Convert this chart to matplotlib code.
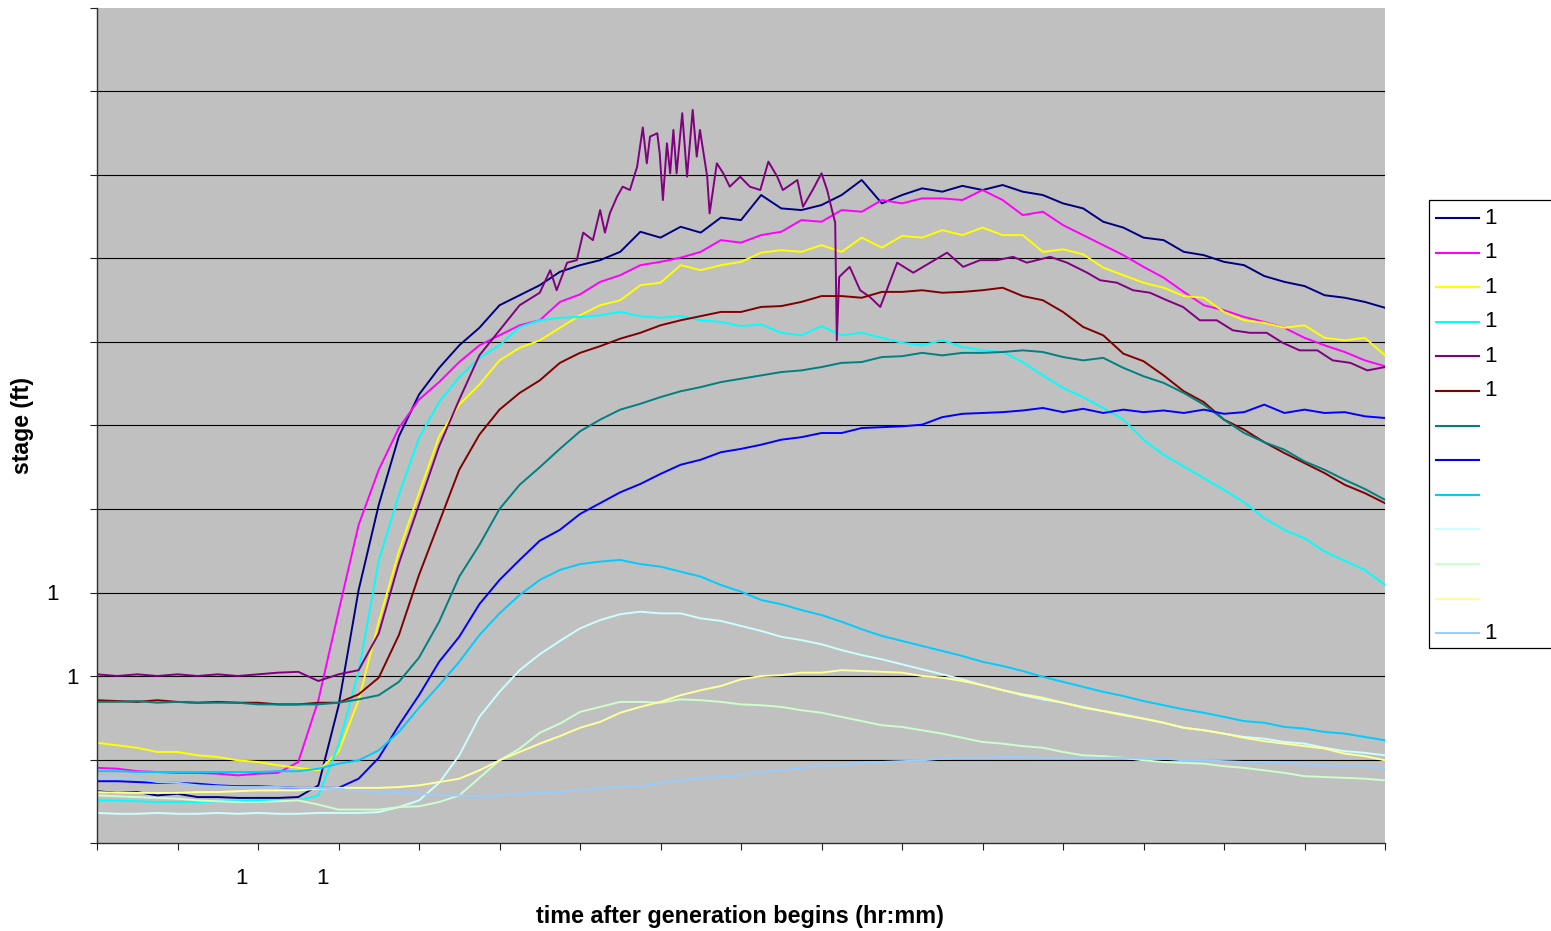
import numpy as np
import matplotlib
matplotlib.use("Agg")
import matplotlib.pyplot as plt
from matplotlib.lines import Line2D
from matplotlib.patches import Rectangle

plt.rcParams['font.family'] = ['Liberation Sans', 'DejaVu Sans']

# ---------------- data (time in axis tick units, stage in gridline units) ----------------
TIME = np.arange(0, 16.001, 0.25)

NAVY = [0.62, 0.60, 0.61, 0.57, 0.59, 0.55, 0.55, 0.54, 0.54, 0.54, 0.55, 0.69,
        1.64, 3.03, 4.05, 4.87, 5.37, 5.69, 5.96, 6.17, 6.44, 6.56, 6.68, 6.84,
        6.92, 6.98, 7.08, 7.32, 7.25, 7.38, 7.31, 7.49, 7.46, 7.76, 7.60, 7.58,
        7.64, 7.76, 7.94, 7.66, 7.76, 7.84, 7.80, 7.87, 7.82, 7.88, 7.80, 7.76,
        7.66, 7.60, 7.44, 7.37, 7.25, 7.22, 7.08, 7.04, 6.96, 6.92, 6.79, 6.72,
        6.67, 6.56, 6.53, 6.48, 6.41]

MAGENTA = [0.90, 0.89, 0.86, 0.85, 0.84, 0.84, 0.83, 0.81, 0.83, 0.84, 0.97, 1.71,
           2.77, 3.81, 4.47, 4.97, 5.31, 5.52, 5.76, 5.96, 6.08, 6.20, 6.26, 6.48,
           6.57, 6.72, 6.80, 6.92, 6.96, 7.01, 7.08, 7.22, 7.19, 7.28, 7.32, 7.46,
           7.44, 7.58, 7.56, 7.70, 7.66, 7.72, 7.72, 7.70, 7.82, 7.70, 7.52, 7.56,
           7.40, 7.28, 7.16, 7.04, 6.90, 6.77, 6.60, 6.44, 6.38, 6.30, 6.24, 6.17,
           6.05, 5.96, 5.88, 5.78, 5.71]

YELLOW = [1.20, 1.17, 1.14, 1.09, 1.09, 1.05, 1.03, 0.99, 0.97, 0.93, 0.90, 0.87,
          1.09, 1.71, 2.65, 3.49, 4.19, 4.87, 5.25, 5.49, 5.78, 5.93, 6.02, 6.17,
          6.32, 6.44, 6.50, 6.68, 6.71, 6.92, 6.86, 6.92, 6.96, 7.07, 7.10, 7.08,
          7.16, 7.08, 7.25, 7.13, 7.27, 7.25, 7.34, 7.28, 7.37, 7.28, 7.28, 7.08,
          7.11, 7.05, 6.89, 6.80, 6.71, 6.65, 6.55, 6.53, 6.36, 6.26, 6.23, 6.17,
          6.20, 6.05, 6.02, 6.05, 5.84]

CYAN = [0.51, 0.51, 0.50, 0.49, 0.49, 0.49, 0.50, 0.50, 0.51, 0.51, 0.51, 0.57,
        1.17, 2.05, 3.38, 4.17, 4.85, 5.28, 5.58, 5.81, 5.96, 6.18, 6.26, 6.29,
        6.30, 6.32, 6.36, 6.31, 6.29, 6.31, 6.26, 6.24, 6.19, 6.21, 6.11, 6.08,
        6.19, 6.08, 6.11, 6.05, 5.99, 5.96, 6.02, 5.94, 5.90, 5.88, 5.76, 5.60,
        5.45, 5.34, 5.21, 5.07, 4.83, 4.65, 4.51, 4.37, 4.23, 4.08, 3.89, 3.75,
        3.65, 3.49, 3.38, 3.27, 3.09]

PURPLE_TIME = [0.0, 0.25, 0.5, 0.75, 1.0, 1.25, 1.5, 1.75, 2.0, 2.25, 2.5, 2.75,
               3.0, 3.25, 3.5, 3.75, 4.0, 4.25, 4.5, 4.75, 5.0, 5.25, 5.5, 5.63,
               5.71, 5.84, 5.96, 6.04, 6.16, 6.25, 6.31, 6.37, 6.46, 6.53, 6.62,
               6.71, 6.78, 6.83, 6.87, 6.96, 6.99, 7.03, 7.08, 7.12, 7.16, 7.20,
               7.27, 7.33, 7.40, 7.45, 7.49, 7.58, 7.61, 7.70, 7.78, 7.86, 7.99,
               8.11, 8.24, 8.34, 8.45, 8.52, 8.70, 8.77, 8.89, 9.00, 9.07, 9.13,
               9.17, 9.19, 9.22, 9.35, 9.48, 9.60, 9.73, 9.81, 9.94, 10.14, 10.35,
               10.56, 10.76, 10.97, 11.18, 11.38, 11.55, 11.84, 12.05, 12.30,
               12.46, 12.67, 12.87, 13.08, 13.29, 13.49, 13.70, 13.91, 14.11,
               14.32, 14.53, 14.73, 14.94, 15.16, 15.35, 15.57, 15.78, 16.0]
PURPLE = [2.02, 2.00, 2.02, 2.00, 2.02, 2.00, 2.02, 2.00, 2.02, 2.04, 2.05, 1.94,
          2.02, 2.07, 2.51, 3.35, 4.05, 4.75, 5.31, 5.84, 6.14, 6.44, 6.59, 6.86,
          6.62, 6.95, 6.98, 7.31, 7.22, 7.58, 7.31, 7.54, 7.74, 7.86, 7.82,
          8.10, 8.57, 8.14, 8.46, 8.50, 8.26, 7.70, 8.38, 8.02, 8.54, 8.02,
          8.74, 7.98, 8.78, 8.22, 8.54, 7.98, 7.54, 8.14, 8.02, 7.86, 7.98,
          7.86, 7.82, 8.16, 7.98, 7.82, 7.94, 7.62, 7.82, 8.02, 7.82, 7.58,
          7.43, 6.02, 6.78, 6.90, 6.62, 6.54, 6.42, 6.62, 6.95, 6.83, 6.95,
          7.07, 6.90, 6.98, 6.98, 7.02, 6.95, 7.02, 6.95, 6.83,
          6.74, 6.71, 6.62, 6.59, 6.50, 6.42, 6.26, 6.26, 6.14,
          6.11, 6.11, 5.99, 5.90, 5.90, 5.78, 5.75, 5.66, 5.70]

DARKRED = [1.71, 1.70, 1.69, 1.71, 1.69, 1.68, 1.69, 1.68, 1.68, 1.66, 1.66, 1.68,
           1.68, 1.78, 1.98, 2.49, 3.21, 3.84, 4.47, 4.89, 5.19, 5.39, 5.54, 5.75,
           5.87, 5.95, 6.04, 6.11, 6.20, 6.26, 6.31, 6.36, 6.36, 6.42, 6.43, 6.48,
           6.55, 6.55, 6.53, 6.60, 6.60, 6.62, 6.59, 6.60, 6.62, 6.65, 6.55, 6.50,
           6.36, 6.18, 6.08, 5.86, 5.77, 5.60, 5.41, 5.28, 5.07, 4.95, 4.80, 4.67,
           4.55, 4.43, 4.29, 4.19, 4.07]

TEAL = [1.69, 1.69, 1.70, 1.68, 1.69, 1.68, 1.68, 1.68, 1.66, 1.66, 1.66, 1.66,
        1.68, 1.72, 1.77, 1.93, 2.22, 2.65, 3.19, 3.57, 4.00, 4.29, 4.50, 4.72,
        4.93, 5.07, 5.19, 5.26, 5.34, 5.41, 5.46, 5.52, 5.56, 5.60, 5.64, 5.66,
        5.70, 5.75, 5.76, 5.82, 5.83, 5.87, 5.84, 5.87, 5.87, 5.88, 5.90, 5.88,
        5.82, 5.78, 5.81, 5.69, 5.59, 5.51, 5.39, 5.25, 5.07, 4.91, 4.80, 4.71,
        4.57, 4.47, 4.35, 4.24, 4.11]

BLUE = [0.74, 0.74, 0.73, 0.72, 0.72, 0.71, 0.69, 0.68, 0.68, 0.67, 0.66, 0.66,
        0.66, 0.77, 1.02, 1.41, 1.77, 2.17, 2.47, 2.86, 3.15, 3.39, 3.62, 3.75,
        3.94, 4.07, 4.20, 4.30, 4.42, 4.53, 4.59, 4.68, 4.72, 4.77, 4.83, 4.86,
        4.91, 4.91, 4.97, 4.98, 4.99, 5.01, 5.10, 5.14, 5.15, 5.16, 5.18, 5.21,
        5.16, 5.20, 5.15, 5.19, 5.16, 5.18, 5.15, 5.19, 5.14, 5.16, 5.25, 5.15,
        5.19, 5.15, 5.16, 5.11, 5.09]

SKYBLUE = [0.86, 0.86, 0.85, 0.85, 0.85, 0.85, 0.85, 0.85, 0.85, 0.86, 0.86, 0.89,
           0.95, 0.99, 1.11, 1.33, 1.62, 1.89, 2.17, 2.49, 2.75, 2.97, 3.15, 3.27,
           3.34, 3.37, 3.39, 3.34, 3.31, 3.25, 3.19, 3.09, 3.01, 2.91, 2.86, 2.79,
           2.73, 2.65, 2.56, 2.48, 2.42, 2.36, 2.30, 2.24, 2.17, 2.12, 2.06, 1.99,
           1.93, 1.87, 1.81, 1.76, 1.70, 1.65, 1.60, 1.56, 1.51, 1.46, 1.44, 1.39,
           1.37, 1.33, 1.31, 1.27, 1.23]

LIGHTCYAN = [0.36, 0.35, 0.35, 0.36, 0.35, 0.35, 0.36, 0.35, 0.36, 0.35, 0.35, 0.36,
             0.36, 0.36, 0.37, 0.43, 0.51, 0.72, 1.05, 1.51, 1.81, 2.07, 2.26, 2.42,
             2.57, 2.67, 2.74, 2.77, 2.75, 2.75, 2.69, 2.66, 2.60, 2.54, 2.47, 2.43,
             2.38, 2.31, 2.25, 2.20, 2.14, 2.08, 2.02, 1.96, 1.89, 1.83, 1.77, 1.72,
             1.68, 1.63, 1.58, 1.54, 1.49, 1.44, 1.38, 1.35, 1.31, 1.27, 1.25, 1.21,
             1.19, 1.14, 1.10, 1.08, 1.05]

LIGHTGREEN = [0.57, 0.56, 0.55, 0.54, 0.53, 0.51, 0.50, 0.49, 0.49, 0.50, 0.51, 0.46,
              0.40, 0.40, 0.40, 0.43, 0.44, 0.49, 0.57, 0.78, 0.99, 1.13, 1.32, 1.43,
              1.57, 1.63, 1.69, 1.69, 1.68, 1.72, 1.71, 1.69, 1.66, 1.65, 1.63, 1.59,
              1.56, 1.51, 1.46, 1.41, 1.39, 1.35, 1.31, 1.26, 1.21, 1.19, 1.16, 1.14,
              1.09, 1.05, 1.04, 1.02, 0.99, 0.97, 0.96, 0.95, 0.92, 0.90, 0.87, 0.84,
              0.80, 0.79, 0.78, 0.77, 0.75]

LIGHTYELLOW = [0.61, 0.60, 0.60, 0.60, 0.60, 0.61, 0.61, 0.62, 0.63, 0.63, 0.63, 0.65,
               0.66, 0.66, 0.66, 0.67, 0.69, 0.73, 0.77, 0.87, 0.99, 1.09, 1.19, 1.28,
               1.38, 1.45, 1.56, 1.63, 1.69, 1.77, 1.83, 1.88, 1.96, 2.00, 2.01, 2.04,
               2.04, 2.07, 2.06, 2.05, 2.04, 2.00, 1.98, 1.94, 1.89, 1.83, 1.78, 1.74,
               1.68, 1.62, 1.58, 1.53, 1.49, 1.44, 1.38, 1.35, 1.31, 1.26, 1.22, 1.19,
               1.16, 1.13, 1.07, 1.04, 0.99]

LIGHTBLUE = [0.79, 0.78, 0.77, 0.73, 0.72, 0.69, 0.68, 0.67, 0.67, 0.67, 0.66, 0.66,
             0.65, 0.62, 0.61, 0.60, 0.59, 0.57, 0.57, 0.56, 0.57, 0.59, 0.60, 0.61,
             0.63, 0.66, 0.67, 0.68, 0.72, 0.75, 0.78, 0.79, 0.81, 0.85, 0.87, 0.90,
             0.92, 0.93, 0.96, 0.97, 0.98, 0.99, 1.01, 1.02, 1.02, 1.03, 1.03, 1.02,
             1.02, 1.02, 1.02, 1.02, 1.01, 1.01, 0.99, 0.99, 0.98, 0.97, 0.97, 0.96,
             0.95, 0.93, 0.91, 0.91, 0.90]

SERIES_LABELS = ['1', '1', '1', '1', '1', '1', '', '', '', '', '', '', '1']
SERIES_COLORS = ['#000080', '#FF00FF', '#FFFF00', '#00FFFF', '#800080', '#800000',
                 '#008080', '#0000FF', '#00CCFF', '#CCFFFF', '#CCFFCC', '#FFFF99',
                 '#99CCFF']
SERIES_DATA = [(TIME, NAVY), (TIME, MAGENTA), (TIME, YELLOW), (TIME, CYAN),
               (PURPLE_TIME, PURPLE), (TIME, DARKRED), (TIME, TEAL), (TIME, BLUE),
               (TIME, SKYBLUE), (TIME, LIGHTCYAN), (TIME, LIGHTGREEN),
               (TIME, LIGHTYELLOW), (TIME, LIGHTBLUE)]

Y_LABELS = [(3, '1', 44), (2, '1', 25)]      # (stage, text, px left of axis)
X_LABELS = [(1.79, '1'), (2.80, '1')]        # (time, text)
X_TITLE = 'time after generation begins (hr:mm)'
Y_TITLE = 'stage (ft)'

# ---------------- figure ----------------
W, H = 1551, 931
fig = plt.figure(figsize=(W / 100, H / 100), dpi=100, facecolor='white')
ax = fig.add_axes([97 / W, (H - 843) / H, 1288 / W, 835 / H])
ax.set_facecolor('#C0C0C0')
ax.set_xlim(0, 16)
ax.set_ylim(0, 10)

for yv in range(1, 10):
    ax.axhline(yv, color='black', lw=0.8, zorder=1)

for (t, v), c in zip(SERIES_DATA, SERIES_COLORS):
    ax.plot(t, v, color=c, lw=1.4, zorder=2, solid_joinstyle='round')

ax.set_xticks(range(0, 17))
ax.set_yticks(range(0, 11))
ax.set_xticklabels([])
ax.set_yticklabels([])
ax.tick_params(direction='out', length=5, width=0.8, color='#202020')
for s in ['top', 'right']:
    ax.spines[s].set_visible(False)
for s in ['left', 'bottom']:
    ax.spines[s].set_color('#303030')
    ax.spines[s].set_linewidth(1.0)

for yv, txt, px in Y_LABELS:
    ax.annotate(txt, xy=(0, yv), xycoords=('axes fraction', 'data'),
                xytext=(-px * 0.72, -7.5 * 0.72), textcoords='offset points',
                ha='center', va='baseline', fontsize=16)
for xv, txt in X_LABELS:
    ax.annotate(txt, xy=(xv, 0), xycoords=('data', 'axes fraction'),
                xytext=(0, -41 * 0.72), textcoords='offset points',
                ha='center', va='baseline', fontsize=16)

fig.text(22 / W, 1 - 425 / H, Y_TITLE, rotation=90, ha='center', va='center',
         fontsize=16.6, fontweight='bold')
fig.text(740 / W, 1 - 916 / H, X_TITLE, ha='center', va='center',
         fontsize=16.8, fontweight='bold')

# ---------------- legend ----------------
leg_left, leg_top, leg_bot = 1429, 200, 648
fig.add_artist(Rectangle((leg_left / W, 1 - leg_bot / H), (W - leg_left + 20) / W,
                         (leg_bot - leg_top) / H, transform=fig.transFigure,
                         facecolor='white', edgecolor='black', lw=0.9, zorder=5))
for i, (c, lab) in enumerate(zip(SERIES_COLORS, SERIES_LABELS)):
    yy = 1 - (218 + i * 34.6) / H
    fig.add_artist(Line2D([1436 / W, 1479 / W], [yy, yy], color=c, lw=1.5,
                          transform=fig.transFigure, zorder=6))
    if lab:
        fig.text(1491 / W, yy, lab, ha='center', va='center', fontsize=16, zorder=6)

fig.savefig('out.png', dpi=100, facecolor='white')
